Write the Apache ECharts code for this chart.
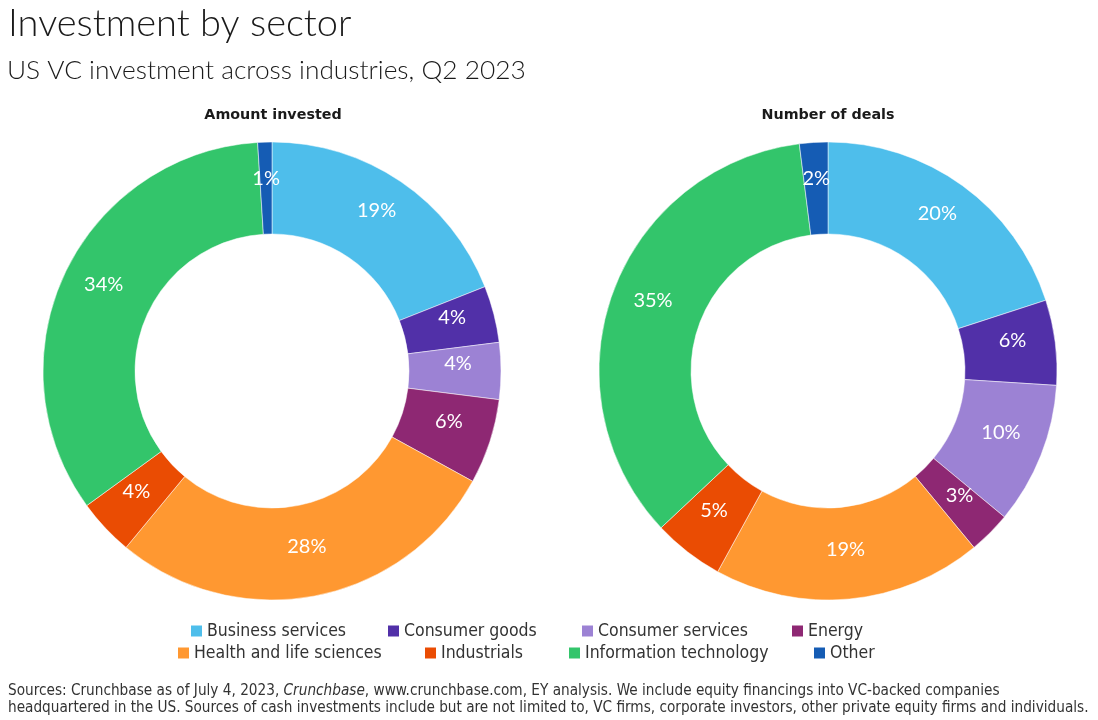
<!DOCTYPE html>
<html><head><meta charset="utf-8">
<script src="https://cdn.jsdelivr.net/npm/echarts@6/dist/echarts.min.js"></script>
<style>html,body{margin:0;padding:0;background:#fff}#c{width:1098px;height:720px}</style>
</head><body><div id="c"></div>
<script>
const categories = ['Business services','Consumer goods','Consumer services','Energy','Health and life sciences','Industrials','Information technology','Other'];
const amountInvested = [19, 4, 4, 6, 28, 4, 34, 1];
const numberOfDeals = [20, 6, 10, 3, 19, 5, 35, 2];
const colors = ['#4EBEEB','#5130A8','#9C82D4','#8E2873','#FF9831','#EA4C03','#33C56B','#155CB4'];
// legend item placement (left x of icon, row index) in category order
const legendLefts = [189, 386, 580, 790, 176, 423, 567, 812];
const legendRows = [0, 0, 0, 0, 1, 1, 1, 1];

const FONT = '"Liberation Sans Narrow", "DejaVu Sans Condensed", "Roboto Condensed", Lato, sans-serif';

function pieSeries(name, values, cx) {
  return {
    type: 'pie', name: name,
    center: [cx, 371], radius: [137, 229],
    startAngle: 90, clockwise: true,
    avoidLabelOverlap: false,
    itemStyle: { borderColor: '#ffffff', borderWidth: 0.5 },
    label: { show: true, position: 'inside', color: '#ffffff', fontSize: 20, fontFamily: 'Lato, sans-serif',
      offset: [0, -7], formatter: p => p.value + '%' },
    labelLine: { show: false },
    emphasis: { disabled: true },
    data: values.map((v, i) => ({ name: categories[i], value: v, itemStyle: { color: colors[i] } }))
  };
}

const chart = echarts.init(document.getElementById('c'));
chart.setOption({
  animation: false,
  title: [
    { text: 'Investment by sector', left: 3, top: 0, textStyle: { fontFamily: 'Lato, sans-serif', fontWeight: 300, fontSize: 38, color: '#1a1a1a' } },
    { text: 'US VC investment across industries, Q2 2023', left: 2, top: 53, textStyle: { fontFamily: 'Lato, sans-serif', fontWeight: 300, fontSize: 26.3, color: '#1a1a1a' } },
    { text: 'Amount invested', left: 268, top: 103, textAlign: 'center', textStyle: { fontFamily: '"DejaVu Sans", sans-serif', fontWeight: 'bold', fontSize: 14.3, color: '#1a1a1a' } },
    { text: 'Number of deals', left: 823, top: 103, textAlign: 'center', textStyle: { fontFamily: '"DejaVu Sans", sans-serif', fontWeight: 'bold', fontSize: 14.3, color: '#1a1a1a' } },
    { text: 'Sources: Crunchbase as of July 4, 2023, {i|Crunchbase}, www.crunchbase.com, EY analysis. We include equity financings into VC-backed companies\nheadquartered in the US. Sources of cash investments include but are not limited to, VC firms, corporate investors, other private equity firms and individuals.',
      left: 3, top: 678,
      textStyle: { fontFamily: FONT, fontSize: 15.2, color: '#333333', lineHeight: 17, fontWeight: 'normal',
        rich: { i: { fontStyle: 'italic', fontFamily: FONT, fontSize: 15.2, color: '#333333', lineHeight: 17 } } } }
  ],
  legend: categories.map((c, i) => ({
    left: legendLefts[i], top: 622 + legendRows[i] * 22, padding: 0,
    itemWidth: 13, itemHeight: 13,
    icon: 'rect',
    selectedMode: false,
    textStyle: { fontFamily: FONT, fontSize: 17.5, lineHeight: 16, color: '#333333', padding: [0,0,0,-1] },
    data: [c]
  })),
  series: [
    pieSeries('Amount invested', amountInvested, 272),
    pieSeries('Number of deals', numberOfDeals, 828)
  ]
});
</script></body></html>
